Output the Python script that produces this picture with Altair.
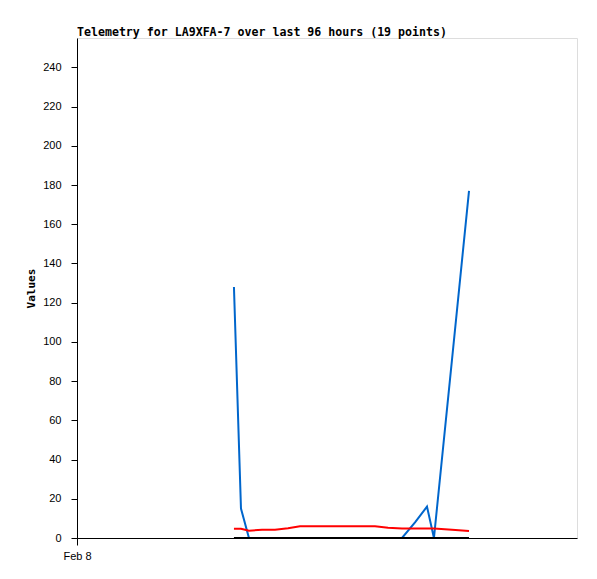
import altair as alt
import pandas as pd

times = [
    "2024-02-09T06:08:00Z", "2024-02-09T07:29:00Z", "2024-02-09T09:01:00Z",
    "2024-02-09T11:31:00Z", "2024-02-09T14:01:00Z", "2024-02-09T16:31:00Z",
    "2024-02-09T18:49:00Z", "2024-02-09T21:42:00Z", "2024-02-10T00:35:00Z",
    "2024-02-10T03:28:00Z", "2024-02-10T06:20:00Z", "2024-02-10T09:13:00Z",
    "2024-02-10T11:43:00Z", "2024-02-10T14:24:00Z", "2024-02-10T16:54:00Z",
    "2024-02-10T19:12:00Z", "2024-02-10T20:32:00Z", "2024-02-11T00:00:00Z",
    "2024-02-11T03:16:00Z",
]
blue_vals = [128, 15, 0, 0, 0, 0, 0, 0, 0, 0, 0, 0, 0, 0, 8, 16, 0, 91, 177]
red_vals = [4.75, 4.75, 3.7, 4.2, 4.2, 5.0, 6.0, 6.0, 6.0, 6.0, 6.0, 6.0,
            5.2, 4.8, 4.8, 4.8, 4.8, 4.2, 3.6]
black_vals = [0] * 19

series_names = ["blue", "red", "black"]
series_colors = ["#0066CC", "#FF0000", "#000000"]
y_ticks = list(range(0, 260, 20))
x_tick_labels = ["Feb 8"]

rows = []
for name, vals in zip(series_names, [blue_vals, red_vals, black_vals]):
    for t, v in zip(times, vals):
        rows.append({"time": t, "value": v, "series": name})
df = pd.DataFrame(rows)

start = alt.DateTime(year=2024, month=2, date=8, utc=True)
end = alt.DateTime(year=2024, month=2, date=12, utc=True)

x_enc = alt.X(
    "time:T",
    scale=alt.Scale(type="utc", domain=[start, end]),
    axis=alt.Axis(
        title=None,
        values=[start],
        labelExpr="'" + x_tick_labels[0] + "'",
        labelFlush=False,
        labelAlign="center",
        grid=False,
        tickSize=7,
        labelPadding=5,
        tickColor="black",
        domainColor="black",
        labelColor="black",
        labelFont="Liberation Sans",
        labelFontSize=11,
    ),
)
y_enc = alt.Y(
    "value:Q",
    scale=alt.Scale(domain=[0, 255], nice=False),
    axis=alt.Axis(
        title="Values",
        values=y_ticks,
        grid=False,
        tickSize=6,
        labelPadding=10,
        tickColor="black",
        domainColor="black",
        labelColor="black",
        labelFont="Liberation Sans",
        labelFontSize=11,
        titleFont="DejaVu Sans Mono",
        titleFontSize=11,
        titleFontWeight="bold",
        titleColor="black",
        titlePadding=6,
    ),
)

chart = (
    alt.Chart(df)
    .mark_line(strokeWidth=2, interpolate="linear")
    .encode(
        x=x_enc,
        y=y_enc,
        color=alt.Color("series:N",
                        scale=alt.Scale(domain=series_names, range=series_colors),
                        legend=None),
        order=alt.Order("time:T"),
        detail="series:N",
    )
    .properties(
        width=500,
        height=500,
        title=alt.TitleParams(
            "Telemetry for LA9XFA-7 over last 96 hours (19 points)",
            anchor="start",
            frame="group",
            font="DejaVu Sans Mono",
            fontSize=11.6,
            fontWeight="bold",
            color="black",
            offset=-1,
        ),
        autosize=alt.AutoSizeParams(type="none"),
        padding={"left": 69, "top": 30, "right": 12, "bottom": 33},
    )
    .configure_view(stroke="black", strokeWidth=1)
    .configure(background="white")
)

chart.save("out.html", embed_options={"renderer": "svg", "actions": False})
